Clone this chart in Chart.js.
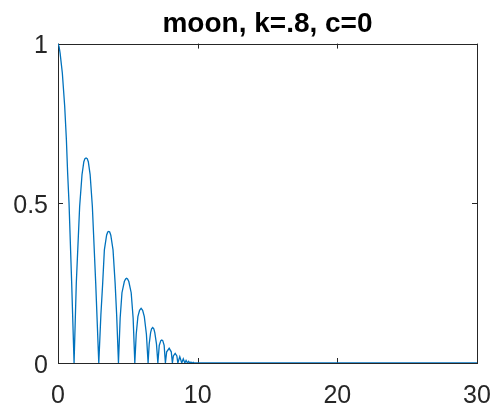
<!DOCTYPE html>
<html>
<head>
<meta charset="utf-8">
<script src="https://cdn.jsdelivr.net/npm/chart.js@4/dist/chart.umd.min.js"></script>
<style>
  html, body { margin: 0; padding: 0; background: #fff; }
  #chart { display: block; }
</style>
</head>
<body>
<canvas id="chart" width="496" height="406"></canvas>
<script>
// values (x, |amplitude|)
var xVals = [
  0, 0.08, 0.15, 0.31, 0.48, 0.60, 0.69, 0.79, 0.98, 1.15,
  1.31, 1.55, 1.72, 1.85, 1.93, 2.01, 2.09, 2.17, 2.30, 2.46, 2.70, 2.92,
  3.07, 3.20, 3.32, 3.48, 3.56, 3.63, 3.70, 3.78, 3.94, 4.09, 4.20, 4.33,
  4.45, 4.58, 4.75, 4.84, 4.91, 4.98, 5.07, 5.24, 5.38, 5.50,
  5.60, 5.72, 5.84, 5.95, 6.06, 6.18, 6.33, 6.45,
  6.53, 6.63, 6.70, 6.78, 6.86, 6.93, 7.05, 7.15,
  7.25, 7.36, 7.43, 7.50, 7.60, 7.69,
  7.78, 7.96, 8.11, 8.19,
  8.26, 8.39, 8.51, 8.58,
  8.72, 8.86,
  8.97, 9.08,
  9.17, 9.27,
  9.35, 9.44,
  9.52, 9.60,
  9.68, 9.75,
  10, 30
];
var yVals = [
  1, 0.99, 0.97, 0.908, 0.803, 0.70, 0.595, 0.50, 0.25, 0,
  0.25, 0.49, 0.59, 0.63, 0.64, 0.642, 0.64, 0.63, 0.59, 0.49, 0.25, 0,
  0.15, 0.25, 0.354, 0.40, 0.41, 0.412, 0.41, 0.40, 0.354, 0.25, 0.15, 0,
  0.14, 0.22, 0.255, 0.263, 0.265, 0.263, 0.255, 0.22, 0.14, 0,
  0.09, 0.145, 0.165, 0.171, 0.165, 0.145, 0.09, 0,
  0.06, 0.095, 0.107, 0.111, 0.107, 0.095, 0.06, 0,
  0.055, 0.070, 0.072, 0.070, 0.055, 0,
  0.035, 0.046, 0.035, 0,
  0.022, 0.030, 0.022, 0,
  0.02, 0,
  0.013, 0,
  0.008, 0,
  0.005, 0,
  0.003, 0,
  0.002, 0,
  0, 0
];
var xTicks = [0, 10, 20, 30];
var yTicks = [0, 0.5, 1];
var titleText = 'moon, k=.8, c=0';

var axisColor = '#262626';
var lineColor = '#0072BD';

var points = [];
for (var i = 0; i < xVals.length; i++) {
    points.push({ x: xVals[i], y: yVals[i] });
}

// box + inward ticks, matlab style
var boxPlugin = {
    id: 'box',
    beforeDatasetsDraw: function(chart) {
        var ctx = chart.ctx;
        var a = chart.chartArea;
        var xs = chart.scales.x, ys = chart.scales.y;
        var tl = 5;
        ctx.save();
        ctx.strokeStyle = axisColor;
        ctx.lineWidth = 1;
        ctx.beginPath();
        for (var i = 0; i < xTicks.length; i++) {
            var px = Math.round(xs.getPixelForValue(xTicks[i])) + 0.5;
            ctx.moveTo(px, a.bottom); ctx.lineTo(px, a.bottom - tl);
            ctx.moveTo(px, a.top); ctx.lineTo(px, a.top + tl);
        }
        for (var j = 0; j < yTicks.length; j++) {
            var py = Math.round(ys.getPixelForValue(yTicks[j])) + 0.5;
            ctx.moveTo(a.left, py); ctx.lineTo(a.left + tl, py);
            ctx.moveTo(a.right, py); ctx.lineTo(a.right - tl, py);
        }
        ctx.stroke();
        ctx.strokeRect(Math.round(a.left) + 0.5, Math.round(a.top) + 0.5,
            Math.round(a.right - a.left), Math.round(a.bottom - a.top));
        ctx.restore();
    }
};

new Chart(document.getElementById('chart'), {
    type: 'line',
    data: {
        datasets: [{
            data: points,
            borderColor: lineColor,
            borderWidth: 1.3,
            pointRadius: 0,
            tension: 0,
            fill: false
        }]
    },
    options: {
        responsive: false,
        animation: false,
        devicePixelRatio: 1,
        layout: { padding: { left: 0, right: 19, top: 0, bottom: 0 } },
        plugins: {
            legend: { display: false },
            tooltip: { enabled: false },
            title: {
                display: true,
                text: titleText,
                fullSize: false,
                color: '#000',
                font: { family: 'Liberation Sans', size: 28, weight: 'bold' },
                padding: { top: 7, bottom: 3 }
            }
        },
        scales: {
            x: {
                type: 'linear',
                min: 0,
                max: 30,
                afterBuildTicks: function(s) { s.ticks = xTicks.map(function(v) { return { value: v }; }); },
                afterFit: function(s) { s.height = 43; s.paddingLeft = 0; s.paddingRight = 0; },
                grid: { display: false, drawTicks: false },
                border: { display: false },
                ticks: {
                    color: axisColor,
                    padding: 18,
                    maxRotation: 0,
                    font: { family: 'Liberation Sans', size: 25 }
                }
            },
            y: {
                type: 'linear',
                min: 0,
                max: 1,
                afterBuildTicks: function(s) { s.ticks = yTicks.map(function(v) { return { value: v }; }); },
                afterFit: function(s) { s.width = 58; s.paddingTop = 0; s.paddingBottom = 0; },
                grid: { display: false, drawTicks: false },
                border: { display: false },
                ticks: {
                    color: axisColor,
                    padding: 10,
                    labelOffset: 3,
                    font: { family: 'Liberation Sans', size: 25 },
                    callback: function(v) { return String(v); }
                }
            }
        }
    },
    plugins: [boxPlugin]
});
</script>
</body>
</html>
